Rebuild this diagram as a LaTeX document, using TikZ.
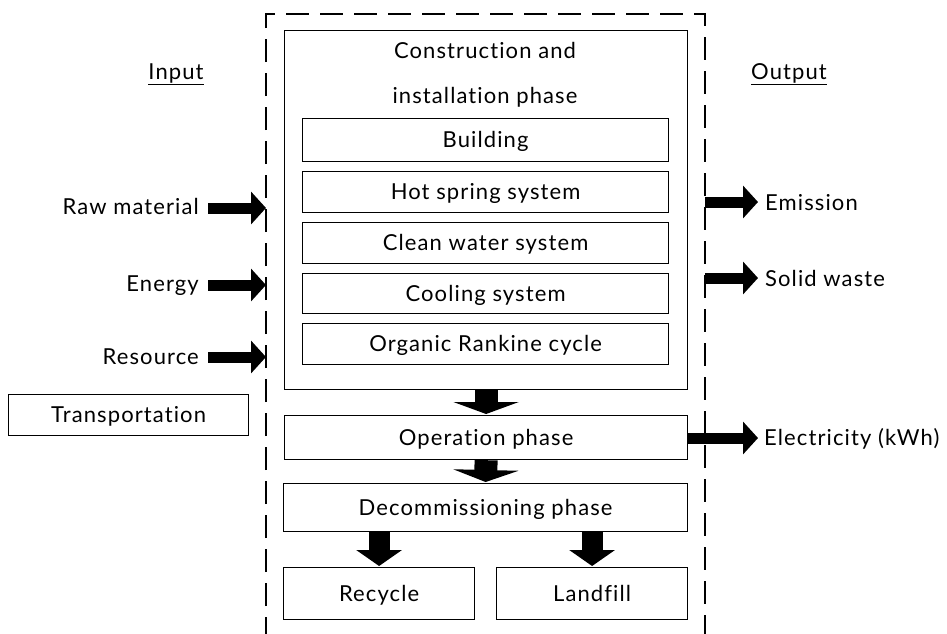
\documentclass[tikz,border=0pt]{standalone}
\usepackage{fontspec}
\setmainfont{Lato}[LetterSpace=5,Ligatures={NoCommon,NoRare}]
\usetikzlibrary{arrows.meta}
\begin{document}
\begin{tikzpicture}[x=1pt,y=-1pt,
  font=\fontsize{22}{25}\selectfont,
  box/.style={draw,line width=1.2pt,inner sep=0pt,anchor=north west,text height=15pt,text depth=0pt},
  lbl/.style={inner sep=0pt,text height=15pt,text depth=0pt},
  rarrow/.style={line width=11pt,-{Triangle[width=32pt,length=15pt]}},
  darrow/.style={line width=23pt,-{Triangle[width=65pt,length=12pt]}},
  sarrow/.style={line width=21pt,-{Triangle[width=45pt,length=16pt]}}]
\useasboundingbox (0,0) rectangle (947,633);
% dashed boundary
\draw[line width=1.4pt,dash pattern=on 23pt off 11pt] (266,640) -- (266,14) -- (705,14) -- (705,640);
% construction box
\node[box,minimum width=403pt,minimum height=359pt] (cons) at (284,30) {};
\node[lbl] (con1) at (485,51) {Construction and};
\node[lbl] (con2) at (485,96) {installation phase};
\node[box,minimum width=366pt,minimum height=43pt] (bld) at (302,118) {Building};
\node[box,minimum width=366pt,minimum height=41pt] (hot) at (302,171) {Hot spring system};
\node[box,minimum width=366pt,minimum height=41pt] (clean) at (302,222) {Clean water system};
\node[box,minimum width=366pt,minimum height=40pt] (cool) at (302,273) {Cooling system};
\node[box,minimum width=366pt,minimum height=41pt] (orc) at (302,323) {Organic Rankine cycle};
% phases
\node[box,minimum width=403pt,minimum height=44pt] (op) at (284,415) {Operation phase};
\node[box,minimum width=404pt,minimum height=48pt] (dec) at (283,483) {Decommissioning phase};
\node[box,minimum width=191pt,minimum height=52pt] (rec) at (283,567) {Recycle};
\node[box,minimum width=191pt,minimum height=52pt] (land) at (496,567) {Landfill};
\node[box,minimum width=240pt,minimum height=41pt] (trans) at (8,394) {Transportation};
% labels
\node[lbl] (in) at (176,72) {\underline{Input}};
\node[lbl] (out) at (789,72) {\underline{Output}};
\node[lbl,anchor=east] (raw) at (199,207) {Raw material};
\node[lbl,anchor=east] (en) at (199,284) {Energy};
\node[lbl,anchor=east] (res) at (199,357) {Resource};
\node[lbl,anchor=west] (emi) at (765,203) {Emission};
\node[lbl,anchor=west] (sol) at (765,279) {Solid waste};
\node[lbl,anchor=west] (ele) at (764,438) {Electricity (kWh)};
% arrow end points on the boundary
\coordinate (rawT) at (266,208);
\coordinate (enT) at (266,285);
\coordinate (resT) at (266,357);
\coordinate (emiS) at (705,202);
\coordinate (solS) at (705,278);
% arrows
\draw[rarrow] ([xshift=9pt]raw.east|-rawT) -- (rawT);
\draw[rarrow] ([xshift=9pt]en.east|-enT) -- (enT);
\draw[rarrow] ([xshift=9pt]res.east|-resT) -- (resT);
\draw[rarrow] (emiS) -- ([xshift=-7pt]emi.west|-emiS);
\draw[rarrow] (solS) -- ([xshift=-7pt]sol.west|-solS);
\draw[rarrow] (op.east|-ele) -- ([xshift=-6pt]ele.west);
\draw[darrow] (cons.south) -- ([yshift=1pt]op.north);
\draw[darrow] (op.south) -- ([yshift=1pt]dec.north);
\draw[sarrow] (dec.south-|rec) -- ([yshift=1pt]rec.north);
\draw[sarrow] (dec.south-|land) -- ([yshift=1pt]land.north);
\end{tikzpicture}
\end{document}
